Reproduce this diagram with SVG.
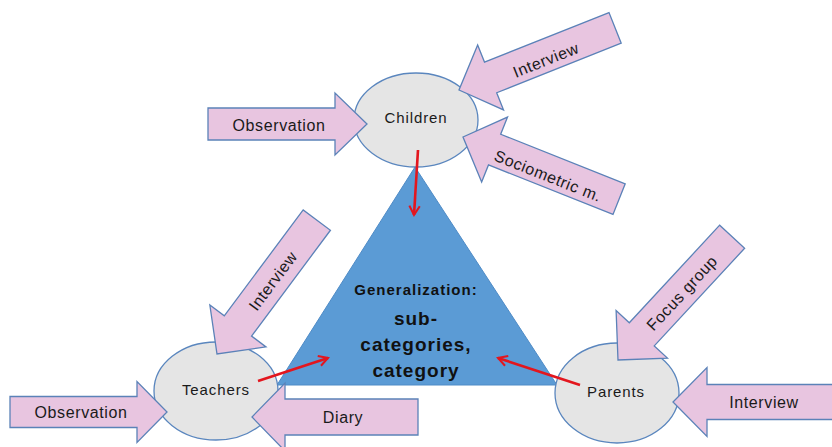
<svg xmlns="http://www.w3.org/2000/svg" width="832" height="447" viewBox="0 0 832 447">
<defs>
<style>
.blk{fill:#E8C5E0;stroke:#5B82B8;stroke-width:1.3}
.node{fill:#E5E5E5;stroke:#5A86BE;stroke-width:1.3}
.tri{fill:#5B9BD5;stroke:#4F8BC6;stroke-width:1}
.lbl{font-family:"Liberation Sans",Arial,sans-serif;font-size:16px;fill:#1a1a1a;text-anchor:middle;dominant-baseline:central;letter-spacing:0.6px}
.nlbl{font-family:"Liberation Sans",Arial,sans-serif;font-size:15px;fill:#1a1a1a;text-anchor:middle;letter-spacing:0.9px}
.cen{font-family:"Liberation Sans",Arial,sans-serif;font-weight:bold;fill:#111;text-anchor:middle;letter-spacing:1px}
.red{stroke:#E3161E;stroke-width:2.6;fill:none;marker-end:url(#ah)}
</style>
<marker id="ah" viewBox="0 0 10 10" refX="8" refY="5" markerWidth="5" markerHeight="5" orient="auto" markerUnits="strokeWidth">
<path d="M1,1 L8,5 L1,9" fill="none" stroke="#E3161E" stroke-width="1.6"/>
</marker>
</defs>

<g id="generalization">
<polygon class="tri" points="415,167 277,385 557,385"/>
<text class="cen" x="416" y="295" font-size="15">Generalization:</text>
<text class="cen" x="416" y="325" font-size="19">sub-</text>
<text class="cen" x="416" y="351" font-size="19">categories,</text>
<text class="cen" x="416" y="377" font-size="19">category</text>
</g>

<g id="children">
<ellipse class="node" cx="416" cy="120" rx="62" ry="47"/>
<text class="nlbl" x="416" y="123">Children</text>
</g>
<g id="teachers">
<ellipse class="node" cx="216" cy="391" rx="62" ry="49"/>
<text class="nlbl" x="216" y="395">Teachers</text>
</g>
<g id="parents">
<ellipse class="node" cx="617" cy="393" rx="62" ry="50"/>
<text class="nlbl" x="616" y="397">Parents</text>
</g>

<g id="children-observation">
<polygon class="blk" transform="translate(367,124)" points="-159,-16 -32,-16 -32,-31 0,0 -32,31 -32,16 -159,16"/>
<text class="lbl" x="279" y="125">Observation</text>
</g>
<g id="children-interview">
<polygon class="blk" transform="translate(459,90) rotate(158.3)" points="-168,-16.5 -34,-16.5 -34,-35 0,0 -34,35 -34,16.5 -168,16.5"/>
<text class="lbl" transform="translate(546,60) rotate(-21.7)">Interview</text>
</g>
<g id="children-sociometric">
<polygon class="blk" transform="translate(463,137) rotate(201.7)" points="-168,-16.5 -34,-16.5 -34,-35 0,0 -34,35 -34,16.5 -168,16.5"/>
<text class="lbl" transform="translate(548,176) rotate(21.7)">Sociometric m.</text>
</g>
<g id="teachers-interview">
<polygon class="blk" transform="translate(217,354) rotate(126.7)" points="-167,-17 -35,-17 -35,-35 0,0 -35,35 -35,17 -167,17"/>
<text class="lbl" transform="translate(273,281) rotate(-53.3)">Interview</text>
</g>
<g id="teachers-observation">
<polygon class="blk" transform="translate(167,412)" points="-157,-15.5 -30,-15.5 -30,-30.5 0,0 -30,30.5 -30,15.5 -157,15.5"/>
<text class="lbl" x="81" y="412">Observation</text>
</g>
<g id="teachers-diary">
<polygon class="blk" transform="translate(252,417) rotate(180)" points="-166,-18 -33,-18 -33,-34 0,0 -33,34 -33,18 -166,18"/>
<text class="lbl" x="343" y="417">Diary</text>
</g>
<g id="parents-focus">
<polygon class="blk" transform="translate(618,360) rotate(132.8)" points="-168,-17 -35,-17 -35,-35 0,0 -35,35 -35,17 -168,17"/>
<text class="lbl" transform="translate(682,293) rotate(-47.2)">Focus group</text>
</g>
<g id="parents-interview">
<polygon class="blk" transform="translate(673,402) rotate(180)" points="-175,-17.5 -34,-17.5 -34,-34.5 0,0 -34,34.5 -34,17.5 -175,17.5"/>
<text class="lbl" x="764" y="402">Interview</text>
</g>

<g id="connectors">
<line class="red" x1="418" y1="150" x2="414" y2="215"/>
<line class="red" x1="258" y1="381" x2="328" y2="358"/>
<line class="red" x1="580" y1="385" x2="498" y2="358"/>
</g>
</svg>
